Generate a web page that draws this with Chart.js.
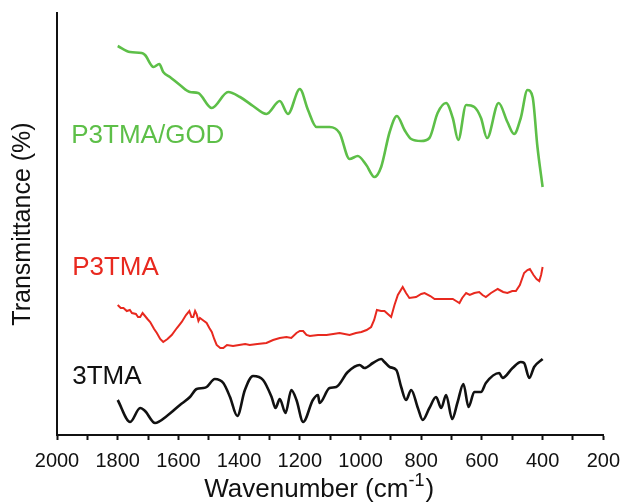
<!DOCTYPE html>
<html>
<head>
<meta charset="utf-8">
<script src="https://cdn.jsdelivr.net/npm/chart.js@4.4.1/dist/chart.umd.min.js"></script>
<style>
  html, body { margin: 0; padding: 0; background: #fff; overflow: hidden; }
  #wrap { width: 629px; height: 502px; position: relative; }
</style>
</head>
<body>
<div id="wrap"><canvas id="ftirChart"></canvas></div>
<script>
// FTIR spectra, wavenumber (cm-1) vs transmittance (arbitrary offset units)
const xTicksMin = 200;
const xTicksMax = 2000;

const godWn = [1800, 1759, 1721, 1710, 1682, 1663, 1650, 1628, 1595, 1562, 1535, 1490, 1436, 1397, 1354, 1310, 1266, 1239, 1200, 1173, 1145, 1102, 1069, 1036, 1009, 981, 954, 932, 904, 880, 855, 833, 800, 773, 746, 718, 696, 678, 652, 625, 603, 583, 545, 516, 494, 472, 450, 433, 417, 400];
const godT  = [389, 383, 382, 380, 368, 371, 363, 358, 350, 343, 342, 327, 343, 338, 329, 321, 334, 321, 346, 325, 308, 308, 302, 276, 279, 270, 258, 268, 303, 319, 305, 296, 294, 297, 322, 332, 317, 295, 330, 328, 317, 297, 332, 313, 301, 317, 345, 338, 288, 248];

const p3tmaWn = [1800, 1790, 1781, 1770, 1760, 1753, 1740, 1733, 1726, 1718, 1710, 1702, 1693, 1680, 1671, 1660, 1650, 1636, 1622, 1605, 1589, 1575, 1564, 1557, 1551, 1545, 1540, 1534, 1529, 1520, 1507, 1498, 1490, 1482, 1474, 1462, 1452, 1440, 1420, 1400, 1380, 1365, 1340, 1310, 1288, 1266, 1244, 1228, 1211, 1200, 1189, 1178, 1167, 1140, 1112, 1090, 1069, 1036, 1015, 997, 980, 965, 955, 946, 932, 921, 910, 899, 888, 877, 861, 850, 839, 817, 800, 789, 770, 756, 730, 710, 696, 685, 674, 665, 652, 640, 625, 609, 598, 587, 570, 548, 530, 516, 500, 488, 475, 461, 450, 442, 430, 420, 411, 405, 400];
const p3tmaT  = [130, 127, 127, 124, 125, 122, 121, 118, 118, 122, 119, 116, 113, 106, 102, 96, 93, 96, 100, 107, 113, 120, 124, 118, 118, 124, 121, 114, 117, 115, 112, 107, 103, 96, 90, 87, 87, 90, 89, 90, 91, 90, 91, 92, 95, 97, 98, 97, 102, 104, 104, 100, 99, 100, 100, 101, 102, 100, 102, 103, 105, 108, 115, 125, 124, 124, 121, 118, 130, 140, 148, 142, 137, 138, 141, 142, 139, 136, 136, 136, 136, 134, 132, 137, 142, 140, 142, 143, 140, 138, 142, 146, 143, 142, 144, 144, 150, 162, 165, 166, 160, 156, 154, 160, 168];

const tmaWn = [1800, 1759, 1726, 1710, 1677, 1638, 1595, 1562, 1540, 1518, 1507, 1480, 1452, 1430, 1406, 1381, 1354, 1321, 1293, 1280, 1266, 1247, 1228, 1211, 1189, 1157, 1140, 1135, 1102, 1080, 1042, 1003, 987, 959, 932, 921, 904, 882, 866, 850, 833, 811, 795, 773, 751, 734, 718, 698, 680, 661, 644, 625, 603, 587, 543, 532, 499, 472, 461, 444, 428, 400];
const tmaT  = [35, 13, 27, 24, 12, 19, 30, 38, 46, 47, 48, 56, 52, 38, 19, 45, 59, 55, 38, 27, 36, 22, 45, 35, 13, 35, 40, 32, 47, 48, 63, 70, 67, 72, 76, 73, 68, 65, 48, 35, 45, 27, 15, 27, 38, 27, 40, 16, 33, 51, 28, 43, 43, 52, 62, 57, 67, 73, 72, 57, 68, 76];

const seriesLabels = ["P3TMA/GOD", "P3TMA", "3TMA"];
const seriesColors = ["#5dbf48", "#e8291f", "#111111"];
const seriesWidths = [2.6, 2, 2.6];
const seriesSmooth = [true, false, true];

// where each curve's name is written (data coordinates)
const nameAnchors = [
  { wn: 1953, t: 299 },
  { wn: 1950, t: 167 },
  { wn: 1950, t: 58 }
];

function toPoints(xs, ys) {
  return xs.map((x, i) => ({ x: x, y: ys[i] }));
}

const allSeries = [[godWn, godT], [p3tmaWn, p3tmaT], [tmaWn, tmaT]];
const datasets = allSeries.map((s, i) => ({
  label: seriesLabels[i],
  data: toPoints(s[0], s[1]),
  borderColor: seriesColors[i],
  borderWidth: seriesWidths[i],
  pointRadius: 0,
  cubicInterpolationMode: seriesSmooth[i] ? "monotone" : "default",
  tension: 0,
  fill: false
}));

const namesPlugin = {
  id: "names",
  afterDatasetsDraw(chart) {
    const ctx = chart.ctx;
    const xs = chart.scales.x, ys = chart.scales.y;
    ctx.save();
    ctx.font = "26px 'Liberation Sans', Arial, sans-serif";
    ctx.textAlign = "left";
    ctx.textBaseline = "middle";
    nameAnchors.forEach((a, i) => {
      ctx.fillStyle = seriesColors[i];
      ctx.fillText(seriesLabels[i], xs.getPixelForValue(a.wn), ys.getPixelForValue(a.t));
    });
    ctx.restore();
  }
};

// x title with a real superscript
const xTitlePlugin = {
  id: "xtitle",
  afterDraw(chart) {
    const ctx = chart.ctx;
    const area = chart.chartArea;
    ctx.save();
    ctx.fillStyle = "#111";
    ctx.textBaseline = "alphabetic";
    ctx.textAlign = "left";
    const big = "26px 'Liberation Sans', Arial, sans-serif";
    const small = "18px 'Liberation Sans', Arial, sans-serif";
    const main = "Wavenumber (cm";
    ctx.font = big;
    const w1 = ctx.measureText(main).width;
    ctx.font = small;
    const w2 = ctx.measureText("-1").width + 1;
    ctx.font = big;
    const w3 = ctx.measureText(")").width;
    const total = w1 + w2 + w3;
    let x = (area.left + area.right) / 2 - total / 2 - 11;
    const base = chart.height - 5;
    ctx.fillText(main, x, base);
    x += w1;
    ctx.font = small;
    ctx.fillText("-1", x, base - 11);
    x += w2;
    ctx.font = big;
    ctx.fillText(")", x, base);
    ctx.restore();
  }
};

const ctx = document.getElementById("ftirChart").getContext("2d");
const chart = new Chart(ctx, {
  type: "line",
  data: { datasets: datasets },
  plugins: [namesPlugin, xTitlePlugin],
  options: {
    responsive: true,
    maintainAspectRatio: false,
    animation: false,
    layout: { padding: { top: 13, left: 0, right: 0, bottom: 0 } },
    plugins: {
      legend: { display: false },
      tooltip: { enabled: false }
    },
    scales: {
      x: {
        type: "linear",
        reverse: true,
        min: xTicksMin,
        max: xTicksMax,
        afterFit: (scale) => { scale.height = 67; },
        ticks: {
          stepSize: 100,
          autoSkip: false,
          maxRotation: 0,
          padding: 9,
          color: "#111",
          font: { family: "'Liberation Sans', Arial, sans-serif", size: 20 },
          callback: (v) => (v % 200 === 0 ? String(v) : "")
        },
        grid: {
          display: true,
          drawOnChartArea: false,
          drawTicks: true,
          tickLength: 5,
          tickWidth: 2,
          tickColor: "#111"
        },
        border: { display: true, color: "#111", width: 2 }
      },
      y: {
        min: 0,
        max: 422,
        afterFit: (scale) => { scale.width = 57; },
        ticks: { display: false },
        grid: { display: false },
        border: { display: true, color: "#111", width: 2 },
        title: {
          display: true,
          text: "Transmittance (%)",
          color: "#111",
          padding: { top: 8, bottom: 0 },
          font: { family: "'Liberation Sans', Arial, sans-serif", size: 25, weight: "normal" }
        }
      }
    }
  }
});
</script>
</body>
</html>
